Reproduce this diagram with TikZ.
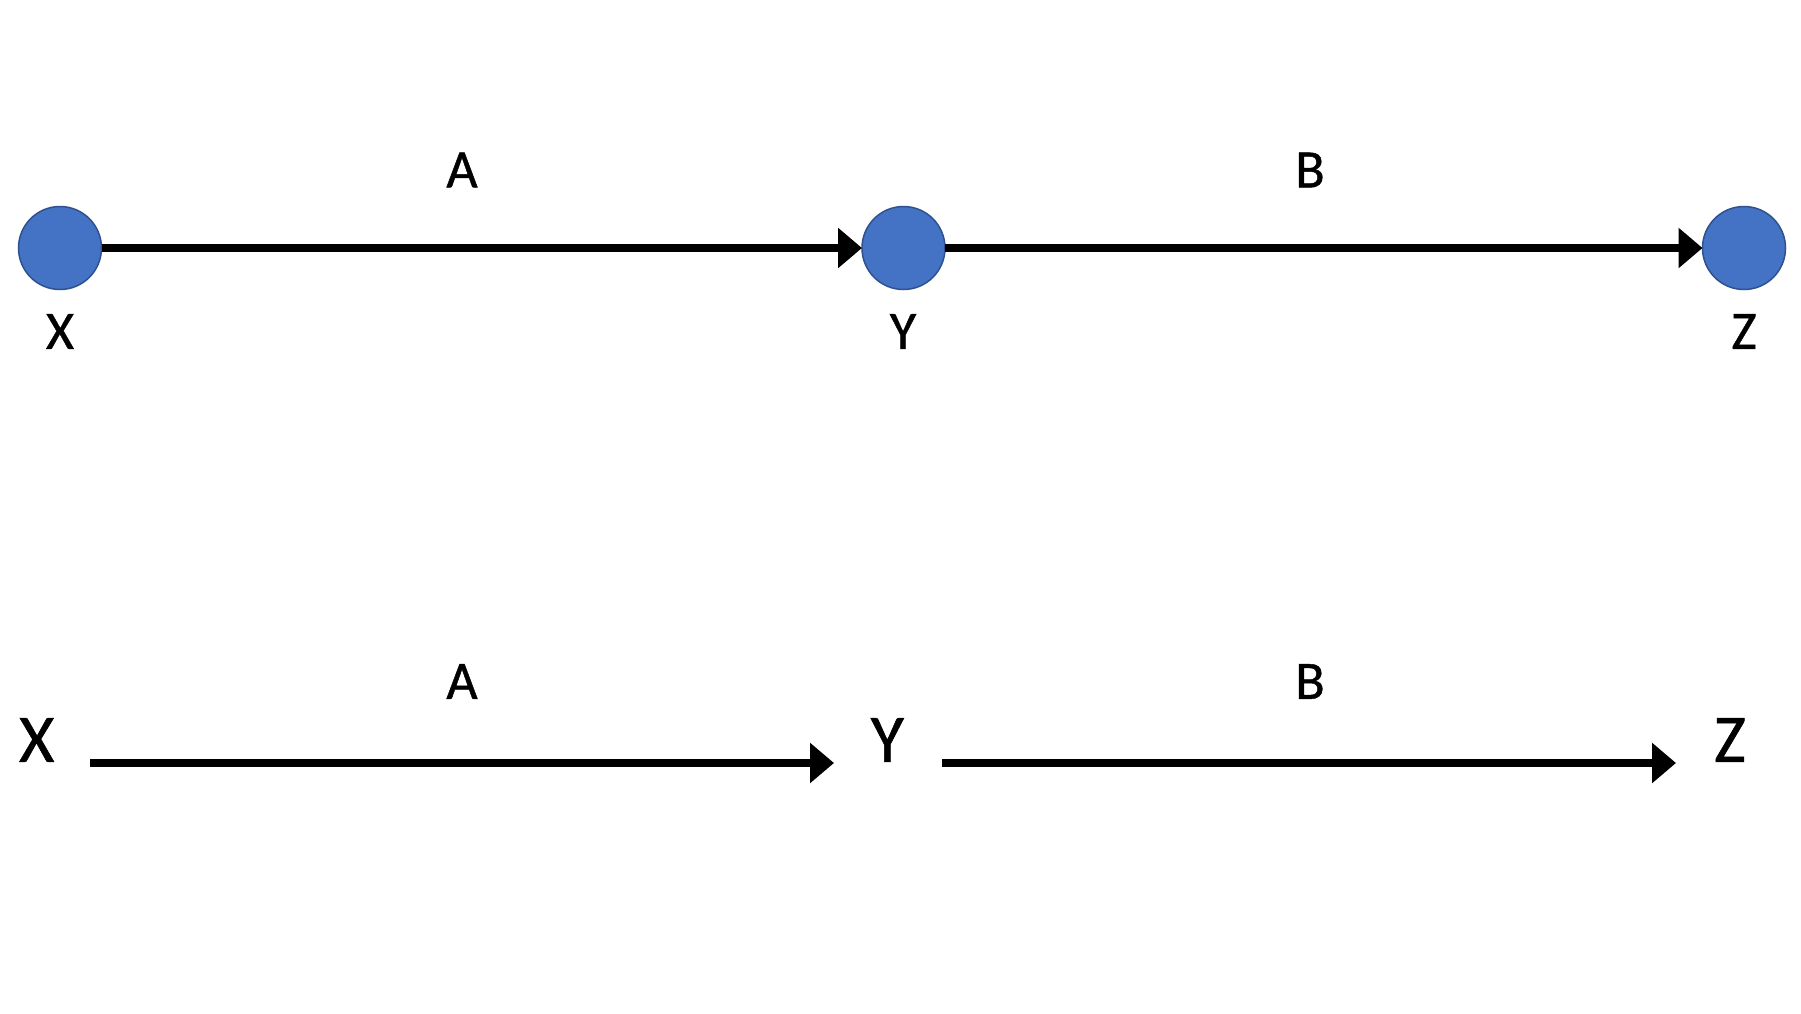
\documentclass[tikz,border=0pt]{standalone}
\usepackage{fontspec}
\setmainfont{Carlito}
\newfontfamily\lblfont{Carlito}[FakeBold=0.8]
\usetikzlibrary{arrows.meta}
\definecolor{nodeblue}{HTML}{4472C4}
\definecolor{nodeedge}{HTML}{2F528F}
\tikzset{
  vertex/.style={circle, fill=nodeblue, draw=nodeedge, line width=1.5pt, minimum size=83pt, inner sep=0pt, outer sep=0pt},
  lbl/.style={inner sep=0pt, outer sep=0pt, font=\lblfont\fontsize{54}{54}\selectfont},
  biglbl/.style={inner sep=0pt, outer sep=0pt, font=\lblfont\fontsize{68}{68}\selectfont},
  edge/.style={line width=7.5pt, -{Triangle[length=24pt, width=39pt]}}
}
\begin{document}
\begin{tikzpicture}[x=1pt, y=-1pt]
\useasboundingbox (0,0) rectangle (1801,1013);
% top row
\node[vertex] (X) at (60,248) {};
\node[vertex] (Y) at (903.5,248) {};
\node[vertex] (Z) at (1744,248) {};
\draw[edge] (X) -- (Y);
\draw[edge] (Y) -- (Z);
\node[lbl] (XL) at (60,331.5) {X};
\node[lbl] (YL) at (903,331.5) {Y};
\node[lbl] (ZL) at (1744,331.5) {Z};
\node[lbl] (A1) at (462,170) {A};
\node[lbl] (B1) at (1310,170) {B};
% bottom row
\node[biglbl] (X2) at (36.7,740) {X};
\node[biglbl] (Y2) at (887.3,740) {Y};
\node[biglbl] (Z2) at (1730,740) {Z};
\coordinate (s1) at (90,763);
\coordinate (e1) at (834,763);
\coordinate (s2) at (942,763);
\coordinate (e2) at (1676,763);
\draw[edge] (s1) -- (e1);
\draw[edge] (s2) -- (e2);
\node[lbl] (A2) at (462,681.5) {A};
\node[lbl] (B2) at (1310,681.5) {B};
\end{tikzpicture}
\end{document}
